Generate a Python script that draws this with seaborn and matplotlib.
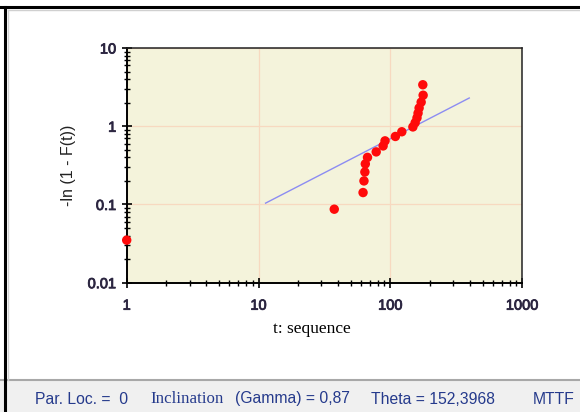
import matplotlib
matplotlib.use("Agg")
import matplotlib.pyplot as plt
from matplotlib.ticker import FixedLocator, LogLocator, NullFormatter, FixedFormatter
from matplotlib.patches import Rectangle
from matplotlib.lines import Line2D
import matplotlib.patheffects as pe
import numpy as np
import pandas as pd
import seaborn as sns

# Failure sequence (t) and plotted -ln(1 - F(t)) values
t_seq = [1, 37.5, 62, 63, 64, 64.5, 67, 78, 88, 91, 109, 122, 148, 154, 159, 162, 165, 171, 177, 176]
hazard = [0.035, 0.087, 0.142, 0.20, 0.26, 0.33, 0.40, 0.47, 0.56, 0.65,
          0.74, 0.85, 0.98, 1.11, 1.28, 1.47, 1.71, 2.03, 2.49, 3.39]

# Weibull fit parameters shown in the status bar
gamma = 0.87
theta = 152.3968
fit_t = [11.3, 396.0]

x_ticks = [1, 10, 100, 1000]
x_labels = ["1", "10", "100", "1000"]
y_ticks = [0.01, 0.1, 1, 10]
y_labels = ["0.01", "0.1", "1", "10"]

W, H = 580, 412
fig = plt.figure(figsize=(W / 100, H / 100), dpi=100)
fig.patch.set_facecolor("white")

# plot area in pixel coordinates
left, right, top, bottom = 126.7, 522.3, 48.0, 282.7
ax = fig.add_axes([left / W, 1 - bottom / H, (right - left) / W, (bottom - top) / H])
ax.set_facecolor("#f4f3db")

pts = pd.DataFrame({"t": t_seq, "h": hazard})
fit = pd.DataFrame({"t": fit_t, "h": [(v / theta) ** gamma for v in fit_t]})

sns.lineplot(data=fit, x="t", y="h", ax=ax, color="#8c8cf2", linewidth=1.0, zorder=3)
sns.scatterplot(data=pts, x="t", y="h", ax=ax, color="#ff0a0a", s=46,
                edgecolor="none", linewidth=0, zorder=4, clip_on=False)

ax.set_xscale("log")
ax.set_yscale("log")
ax.set_xlim(1, 1000)
ax.set_ylim(0.01, 10)

ax.xaxis.set_major_locator(FixedLocator(x_ticks))
ax.xaxis.set_major_formatter(FixedFormatter(x_labels))
ax.yaxis.set_major_locator(FixedLocator(y_ticks))
ax.yaxis.set_major_formatter(FixedFormatter(y_labels))
ax.xaxis.set_minor_locator(LogLocator(base=10, subs=np.arange(2, 10)))
ax.yaxis.set_minor_locator(LogLocator(base=10, subs=np.arange(2, 10)))
ax.xaxis.set_minor_formatter(NullFormatter())
ax.yaxis.set_minor_formatter(NullFormatter())

ax.tick_params(which="major", direction="inout", length=7, width=1.2, color="black",
               labelsize=10.5, labelcolor="#2b2540", pad=4)
ax.tick_params(which="minor", direction="inout", length=4, width=1.0, color="black")
ax.tick_params(axis="x", which="major", pad=8)
heavy = [pe.withStroke(linewidth=0.6, foreground="#2b2540")]
for lbl in ax.get_xticklabels() + ax.get_yticklabels():
    lbl.set_fontfamily("Liberation Sans")
    lbl.set_path_effects(heavy)

ax.grid(True, which="major", color="#f7d9c0", linewidth=0.9, zorder=0)
ax.set_axisbelow(True)

for side in ["left", "bottom"]:
    ax.spines[side].set_color("black")
    ax.spines[side].set_linewidth(1.4)
for side in ["top", "right"]:
    ax.spines[side].set_color("#222222")
    ax.spines[side].set_linewidth(1.1)

ax.set_xlabel("")
ax.set_ylabel("")

fig.text(312 / W, 1 - 329 / H, "t: sequence", family="Liberation Serif", fontsize=12.5,
         color="black", ha="center", va="center")
fig.text(68 / W, 1 - 165 / H, "-ln (1 - F(t))", family="Liberation Sans", fontsize=11.5,
         color="#222222", ha="center", va="center", rotation=90)

# status bar along the bottom
bar_top = 380
fig.add_artist(Rectangle((0, 0), 1, (H - bar_top) / H, transform=fig.transFigure,
                         facecolor="#f0f0f0", edgecolor="none", zorder=0))
fig.add_artist(Line2D([0, 1], [(H - bar_top) / H] * 2, transform=fig.transFigure,
                      color="#a8a8a8", linewidth=1.5))
status_y = 1 - 399 / H
blue = "#253a8c"
fig.text(35 / W, status_y, "Par. Loc. =  0", family="Liberation Sans", fontsize=11.3,
         color=blue, ha="left", va="center")
fig.text(150 / W, status_y, "Inclination", family="Liberation Serif", fontsize=12.2,
         color=blue, ha="left", va="center")
fig.text(235 / W, status_y, "(Gamma) = 0,87", family="Liberation Sans", fontsize=11.3,
         color=blue, ha="left", va="center")
fig.text(371 / W, status_y, "Theta = 152,3968", family="Liberation Sans", fontsize=11.3,
         color=blue, ha="left", va="center")
fig.text(533 / W, status_y, "MTTF", family="Liberation Sans", fontsize=11.3,
         color=blue, ha="left", va="center")

# window frame: black top and left edges with a soft grey inner line
fig.add_artist(Line2D([0, 1], [1 - 6.5 / H] * 2, transform=fig.transFigure,
                      color="black", linewidth=2.2))
fig.add_artist(Line2D([4.5 / W] * 2, [0, 1 - 6.5 / H], transform=fig.transFigure,
                      color="black", linewidth=2.2))
fig.add_artist(Line2D([8 / W, 1], [1 - 10 / H] * 2, transform=fig.transFigure,
                      color="#d0d0d0", linewidth=1.0))
fig.add_artist(Line2D([8 / W] * 2, [(H - bar_top) / H, 1 - 10 / H], transform=fig.transFigure,
                      color="#d0d0d0", linewidth=1.0))

fig.savefig("out.png", dpi=100)
